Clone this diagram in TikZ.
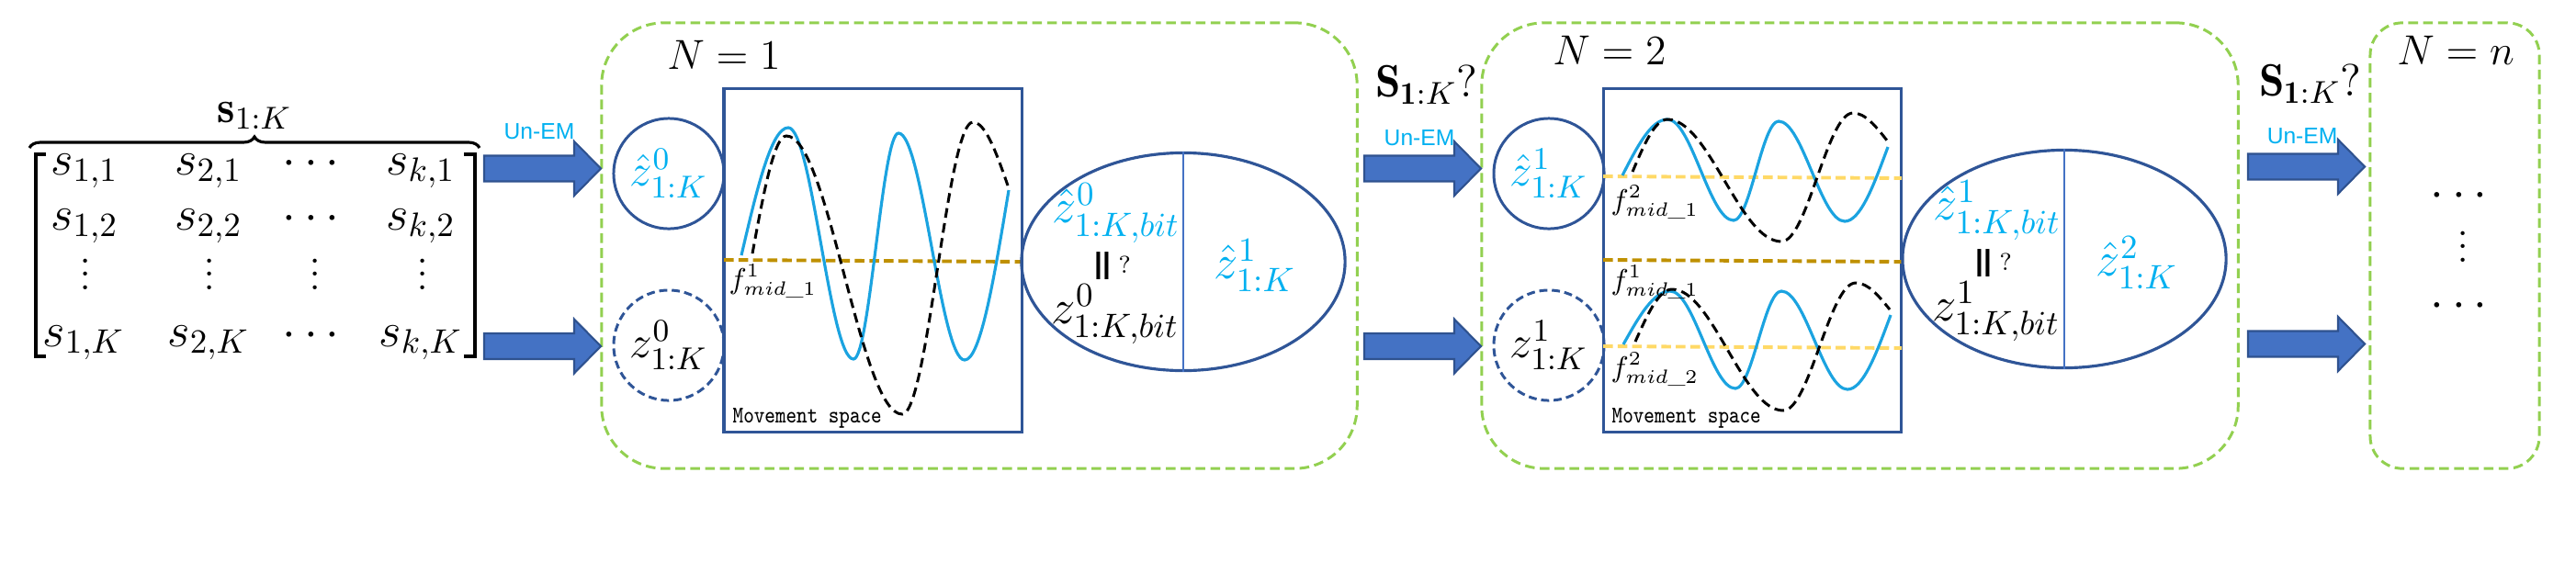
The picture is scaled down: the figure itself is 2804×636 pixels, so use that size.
\RequirePackage{fix-cm}
\documentclass[tikz,border=0pt]{standalone}
\usepackage{amsmath}
\usepackage{graphicx}
\usepackage{fontspec}
\usetikzlibrary{shapes.geometric,decorations.pathreplacing,calc}
\newfontfamily\lsans{Liberation Sans}
\definecolor{cyanT}{HTML}{00B0F0}
\definecolor{cyanC}{HTML}{1BA3E0}
\definecolor{dkblue}{HTML}{2F5597}
\definecolor{midblue}{HTML}{4472C4}
\definecolor{arrowline}{HTML}{2F528F}
\definecolor{greenD}{HTML}{92D050}
\definecolor{goldD}{HTML}{BF9000}
\definecolor{yellowD}{HTML}{FFD966}
\newcommand{\blkarrow}[2]{\filldraw[blkarrowstyle] (#1,#2) ++(0,-14) -- ++(98,0) -- ++(0,-15.5) -- ++(29,29.5) -- ++(-29,29.5) -- ++(0,-15.5) -- ++(-98,0) -- cycle;}
\newcommand{\tightvdots}{\vbox{\baselineskip=4pt\lineskiplimit=0pt\hbox{.}\hbox{.}\hbox{.}}}
\begin{document}
\begin{tikzpicture}[x=0.01cm,y=-0.01cm,
  gbox/.style={draw=greenD, line width=0.85pt, dash pattern=on 3pt off 1.6pt, rounded corners=0.68cm, inner sep=0pt},
  mspace/.style={draw=dkblue, line width=0.9pt, inner sep=0pt, minimum width=3.24cm, minimum height=3.73cm},
  zcirc/.style={circle, draw=dkblue, line width=0.85pt, minimum size=1.2cm, inner sep=0pt, font=\fontsize{14}{16}\selectfont},
  zcircd/.style={zcirc, dash pattern=on 2.5pt off 1.4pt},
  bellipse/.style={ellipse, draw=dkblue, line width=0.9pt, minimum width=3.52cm, minimum height=2.37cm, inner sep=0pt},
  splitline/.style={draw=midblue, line width=0.7pt},
  wavec/.style={draw=cyanC, line width=0.9pt},
  waved/.style={draw=black, line width=0.85pt, dash pattern=on 3pt off 1.7pt},
  goldline/.style={draw=goldD, line width=1.1pt, dash pattern=on 3pt off 1.5pt},
  yelline/.style={draw=yellowD, line width=1.1pt, dash pattern=on 3pt off 1.5pt},
  mlabel/.style={inner sep=0pt, font=\fontsize{15}{18}\selectfont, anchor=base},
  flabel/.style={inner sep=0pt, anchor=west, font=\fontsize{9}{11}\selectfont},
  emlabel/.style={inner sep=0pt, text=cyanT, font=\lsans\fontsize{7}{8}\selectfont},
  msp/.style={inner sep=0pt, anchor=west, font=\ttfamily\fontsize{6.2}{7}\selectfont},
  nlabel/.style={inner sep=0pt, font=\fontsize{13}{15}\selectfont},
  slabel/.style={inner sep=0pt, font=\fontsize{14}{16}\selectfont},
  etext/.style={inner sep=0pt, font=\fontsize{15}{17}\selectfont},
  blkarrowstyle/.style={fill=midblue, draw=arrowline, line width=0.6pt}
]
\useasboundingbox (0,0) rectangle (2804,636);

% ---------- matrix ----------
\draw[line width=1.4pt] (50,168) -- (39,168) -- (39,388) -- (50,388);
\draw[line width=1.4pt] (505,168) -- (517,168) -- (517,388) -- (505,388);
\coordinate (braceL) at (32,161);
\coordinate (braceR) at (522,161);
\draw[line width=0.9pt, decorate, decoration={brace, amplitude=0.12cm}] (braceL) -- (braceR);
\node[inner sep=0pt, font=\fontsize{14}{16}\selectfont] (slab) at (277,126) {$\mathbf{s}_{1:K}$};

\node[mlabel] (m11) at (92,190) {$s_{1,1}$};
\node[mlabel] (m21) at (227,190) {$s_{2,1}$};
\node[mlabel] (m31) at (343,190) {$\cdots$};
\node[mlabel] (m41) at (458,190) {$s_{k,1}$};
\node[mlabel] (m12) at (92,250) {$s_{1,2}$};
\node[mlabel] (m22) at (227,250) {$s_{2,2}$};
\node[mlabel] (m32) at (343,250) {$\cdots$};
\node[mlabel] (m42) at (458,250) {$s_{k,2}$};
\node[mlabel] (m13) at (93,315) {\tightvdots};
\node[mlabel] (m23) at (228,315) {\tightvdots};
\node[mlabel] (m33) at (343,315) {\tightvdots};
\node[mlabel] (m43) at (460,315) {\tightvdots};
\node[mlabel] (m14) at (91,377) {$s_{1,K}$};
\node[mlabel] (m24) at (227,377) {$s_{2,K}$};
\node[mlabel] (m34) at (343,377) {$\cdots$};
\node[mlabel] (m44) at (458,377) {$s_{k,K}$};

% ---------- green boxes ----------
\node[gbox, minimum width=8.22cm, minimum height=4.85cm] (g1) at (1066,267.5) {};
\node[gbox, minimum width=8.23cm, minimum height=4.85cm] (g2) at (2024.5,267.5) {};
\node[gbox, rounded corners=0.35cm, minimum width=1.84cm, minimum height=4.85cm] (g3) at (2672,267.5) {};

\node[nlabel] (n1) at (788,60) {$N=1$};
\node[nlabel] (n2) at (1752,55) {$N=2$};
\node[nlabel] (n3) at (2673,55) {$N=n$};

\node[slabel] (q1) at (1553,92) {$\mathbf{S}_{\mathbf{1}:K}$?};
\node[slabel] (q2) at (2515,91) {$\mathbf{S}_{\mathbf{1}:K}$?};

% ---------- block arrows ----------
\blkarrow{527}{183.5}
\blkarrow{527}{377}
\blkarrow{1485}{183.5}
\blkarrow{1485}{377}
\blkarrow{2447}{181.5}
\blkarrow{2447}{374.5}
\node[emlabel] (em1) at (587,143) {Un-EM};
\node[emlabel] (em2) at (1545,150) {Un-EM};
\node[emlabel] (em3) at (2506,148) {Un-EM};

% ---------- stage 1 ----------
\node[zcirc, text=cyanT] (c1t) at (728,189) {$\hat{z}^{0}_{1:K}$};
\node[zcircd] (c1b) at (728,376) {$z^{0}_{1:K}$};
\node[mspace] (mb1) at (950,283.5) {};
\draw[goldline] (788,283) -- (1112,285);
\draw[wavec] (807,278) sin (858,139) cos (893.5,265) sin (929,391) cos (953.5,268) sin (978,145) cos (1014,268.5) sin (1050,392) cos (1098,207);
\draw[waved] (819,276) sin (856,148) cos (919,299.5) sin (982,451) cos (1020.5,292) sin (1059,133) cos (1097,202);
\node[flabel] (f1) at (793,306) {$f^{1}_{mid\_1}$};
\node[msp] (ms1) at (797,455) {\scalebox{1}[1.2]{Movement space}};

\node[bellipse] (e1) at (1288,285) {};
\draw[splitline] (e1.north) -- (e1.south);
\node[etext, text=cyanT] (e1a) at (1215,232) {$\hat{z}^{0}_{1:K,bit}$};
\node[etext] (e1b) at (1211,290) {{\lsans\bfseries\fontsize{9}{10}\selectfont ||}\,{\fontsize{7.5}{9}\selectfont ?}};
\node[etext] (e1c) at (1214,342) {$z^{0}_{1:K,bit}$};
\node[etext, text=cyanT] (e1d) at (1366,289) {$\hat{z}^{1}_{1:K}$};

% ---------- stage 2 ----------
\node[zcirc, text=cyanT] (c2t) at (1686,189) {$\hat{z}^{1}_{1:K}$};
\node[zcircd] (c2b) at (1686,376) {$z^{1}_{1:K}$};
\node[mspace] (mb2) at (1907.5,283.5) {};
\draw[yelline] (1745,192) -- (2070,194);
\draw[goldline] (1745,283) -- (2070,285);
\draw[yelline] (1745,377) -- (2070,379);
\draw[wavec] (1766,191) sin (1815,130) cos (1851,185) sin (1887,240) cos (1911.5,186) sin (1936,132) cos (1972,186.5) sin (2008,241) cos (2055,160);
\draw[waved] (1777,187) sin (1815,130) cos (1877,196.5) sin (1939,263) cos (1978,193) sin (2017,123) cos (2054,153);
\draw[wavec] (1767,375) sin (1818,317) cos (1853.5,370) sin (1889,423) cos (1914,370) sin (1939,317) cos (1975,370.5) sin (2011,424) cos (2058,343);
\draw[waved] (1780,372) sin (1820,315) cos (1880.5,381) sin (1941,447) cos (1980.5,377.5) sin (2020,308) cos (2057,337);
\node[flabel] (f2a) at (1753,220) {$f^{2}_{mid\_1}$};
\node[flabel] (f2b) at (1753,307) {$f^{1}_{mid\_1}$};
\node[flabel] (f2c) at (1753,402) {$f^{2}_{mid\_2}$};
\node[msp] (ms2) at (1754,455) {\scalebox{1}[1.2]{Movement space}};

\node[bellipse] (e2) at (2247,282) {};
\draw[splitline] (e2.north) -- (e2.south);
\node[etext, text=cyanT] (e2a) at (2174,229) {$\hat{z}^{1}_{1:K,bit}$};
\node[etext] (e2b) at (2170,287) {{\lsans\bfseries\fontsize{9}{10}\selectfont ||}\,{\fontsize{7.5}{9}\selectfont ?}};
\node[etext] (e2c) at (2173,339) {$z^{1}_{1:K,bit}$};
\node[etext, text=cyanT] (e2d) at (2326,286) {$\hat{z}^{2}_{1:K}$};

% ---------- stage n ----------
\node[mlabel] (d1) at (2681,225) {$\cdots$};
\node[mlabel] (d2) at (2681,285) {\tightvdots};
\node[mlabel] (d3) at (2681,345) {$\cdots$};
\end{tikzpicture}
\end{document}
